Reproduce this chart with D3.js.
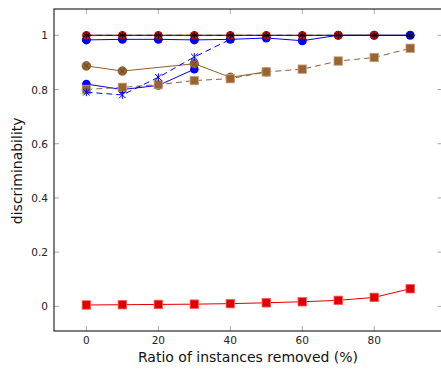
<!DOCTYPE html>
<html>
<head>
<meta charset="utf-8">
<script src="https://cdn.jsdelivr.net/npm/d3@7"></script>
<style>
  body { margin: 0; background: #fff; }
  svg { font-family: "DejaVu Sans", sans-serif; }
</style>
</head>
<body>
<svg id="chart" width="441" height="369"></svg>
<script>
// data
const blueTopX = [0, 10, 20, 30, 40, 50, 60, 70, 80, 90];
const blueTopY = [0.983, 0.985, 0.985, 0.983, 0.985, 0.99, 0.98, 1, 1, 1];

const blueLowX = [0, 10, 20, 30];
const blueLowY = [0.82, 0.80, 0.815, 0.875];

const blueDashX = [0, 10, 20, 30, 40];
const blueDashY = [0.79, 0.78, 0.845, 0.92, 0.985];

const brownSolidX = [0, 10, 30, 40, 50];
const brownSolidY = [0.887, 0.868, 0.895, 0.845, 0.865];

const brownDashX = [0, 10, 20, 30, 40, 50, 60, 70, 80, 90];
const brownDashY = [0.80, 0.808, 0.818, 0.833, 0.84, 0.865, 0.875, 0.905, 0.918, 0.952];

const redCircX = [0, 10, 20, 30, 40, 50, 60, 70, 80];
const redCircY = [1, 1, 1, 1, 1, 1, 1, 1, 1];

const blackX = [0, 10, 20, 30, 40, 50, 60, 70, 80, 90];
const blackY = [1, 1, 1, 1, 1, 1, 1, 1, 1, 1];

const redSqX = [0, 10, 20, 30, 40, 50, 60, 70, 80, 90];
const redSqY = [0.005, 0.006, 0.007, 0.008, 0.01, 0.013, 0.017, 0.022, 0.033, 0.065];

const xTicks = [0, 20, 40, 60, 80];
const yTicks = [0, 0.2, 0.4, 0.6, 0.8, 1];

const svg = d3.select('#chart');
const mLeft = 54, mRight = 442.6, mTop = 9, mBottom = 331;

const x = d3.scaleLinear().domain([-9, 99]).range([mLeft, mRight]);
const y = d3.scaleLinear().domain([-0.091, 1.097]).range([mBottom, mTop]);

const zip = (xs, ys) => xs.map((v, i) => [v, ys[i]]);
const line = d3.line().x(d => x(d[0])).y(d => y(d[1]));

// ticks (inside, gray)
const tk = svg.append('g').attr('stroke', '#aaa').attr('stroke-width', 1);
xTicks.forEach(t => {
    tk.append('line').attr('x1', x(t)).attr('x2', x(t)).attr('y1', mBottom).attr('y2', mBottom - 5);
    tk.append('line').attr('x1', x(t)).attr('x2', x(t)).attr('y1', mTop).attr('y2', mTop + 5);
});
yTicks.forEach(t => {
    tk.append('line').attr('y1', y(t)).attr('y2', y(t)).attr('x1', mLeft).attr('x2', mLeft + 5);
    tk.append('line').attr('y1', y(t)).attr('y2', y(t)).attr('x1', mRight).attr('x2', mRight - 5);
});

// axis frame
svg.append('rect')
    .attr('x', mLeft).attr('y', mTop)
    .attr('width', mRight - mLeft).attr('height', mBottom - mTop)
    .attr('fill', 'none').attr('stroke', '#000').attr('stroke-width', 1);

// tick labels
svg.append('g').selectAll('text').data(xTicks).enter().append('text')
    .attr('x', d => x(d)).attr('y', 344)
    .attr('text-anchor', 'middle').attr('font-size', 10.5).attr('fill', '#222')
    .text(d => d);
svg.append('g').selectAll('text').data(yTicks).enter().append('text')
    .attr('x', 48).attr('y', d => y(d) + 4)
    .attr('text-anchor', 'end').attr('font-size', 10.5).attr('fill', '#222')
    .text(d => d3.format('~g')(d));

// axis labels
svg.append('text').attr('x', 248).attr('y', 362)
    .attr('text-anchor', 'middle').attr('font-size', 14).attr('fill', '#111')
    .text('Ratio of instances removed (%)');
svg.append('text')
    .attr('transform', 'translate(22,' + y(0.5) + ') rotate(-90)')
    .attr('text-anchor', 'middle').attr('font-size', 14).attr('fill', '#111')
    .text('discriminability');

const plot = svg.append('g');
const blue = '#0000ff', red = '#e00000', brown = '#8f5f32', brownFill = '#9a6431';

function drawLine(pts, color, dash, w) {
    plot.append('path').datum(pts).attr('d', line)
        .attr('fill', 'none').attr('stroke', color)
        .attr('stroke-width', w || 1)
        .attr('stroke-dasharray', dash || null);
}
function circles(pts, fill, r) {
    plot.append('g').selectAll('circle').data(pts).enter().append('circle')
        .attr('cx', d => x(d[0])).attr('cy', d => y(d[1])).attr('r', r)
        .attr('fill', fill);
}
function squares(pts, fill, stroke, s) {
    plot.append('g').selectAll('rect').data(pts).enter().append('rect')
        .attr('x', d => x(d[0]) - s / 2).attr('y', d => y(d[1]) - s / 2)
        .attr('width', s).attr('height', s)
        .attr('fill', fill).attr('stroke', stroke).attr('stroke-width', 0.8);
}
function otimes(pts, color, r) {
    const g = plot.append('g').selectAll('g').data(pts).enter().append('g')
        .attr('transform', d => 'translate(' + x(d[0]) + ',' + y(d[1]) + ')');
    g.append('circle').attr('r', r).attr('fill', brownFill).attr('stroke', color).attr('stroke-width', 0.8);
    const k = r * 0.7;
    g.append('path').attr('d', `M${-k},${-k}L${k},${k}M${-k},${k}L${k},${-k}`)
        .attr('stroke', '#5a3a1a').attr('stroke-width', 0.8);
}
function xmarks(pts, color, r) {
    plot.append('g').selectAll('path').data(pts).enter().append('path')
        .attr('transform', d => 'translate(' + x(d[0]) + ',' + y(d[1]) + ')')
        .attr('d', `M${-r},${-r}L${r},${r}M${-r},${r}L${r},${-r}M0,${-r * 1.2}L0,${r * 1.2}`)
        .attr('stroke', color).attr('stroke-width', 1).attr('fill', 'none');
}
function stars(pts, color, r) {
    plot.append('g').selectAll('path').data(pts).enter().append('path')
        .attr('transform', d => 'translate(' + x(d[0]) + ',' + y(d[1]) + ')')
        .attr('d', d3.range(3).map(i => {
            const a = Math.PI / 2 + i * Math.PI / 3;
            return `M${r * Math.cos(a)},${r * Math.sin(a)}L${-r * Math.cos(a)},${-r * Math.sin(a)}`;
        }).join(''))
        .attr('stroke', color).attr('stroke-width', 1).attr('fill', 'none');
}

// red squares at the bottom
const redSq = zip(redSqX, redSqY);
drawLine(redSq, red, null, 1);
squares(redSq, red, '#ff6060', 8.5);

// blue lower solid circles
const blLow = zip(blueLowX, blueLowY);
drawLine(blLow, blue, null, 1);
circles(blLow, blue, 4.3);

// brown dashed squares
const brDash = zip(brownDashX, brownDashY);
drawLine(brDash, brown, '6,4', 1);

// brown solid otimes
const brSolid = zip(brownSolidX, brownSolidY);
drawLine(brSolid, brown, null, 1);
otimes(brSolid, '#7a4e24', 4.3);

squares(brDash, brownFill, '#c8a888', 8.5);

// blue dashed x
const blDash = zip(blueDashX, blueDashY);
drawLine(blDash, blue, '6,4', 1);
xmarks(blDash, blue, 3.3);

// blue top solid circles
const blTop = zip(blueTopX, blueTopY);
drawLine(blTop, blue, null, 1);
circles(blTop, blue, 4.5);

// red circles at 1
const rc = zip(redCircX, redCircY);
drawLine(rc, brown, '6,4', 1);
circles(rc, red, 4.3);

// black line with stars
const bk = zip(blackX, blackY);
drawLine(bk, '#000', null, 1.1);
stars(bk, '#000', 3.8);
</script>
</body>
</html>
